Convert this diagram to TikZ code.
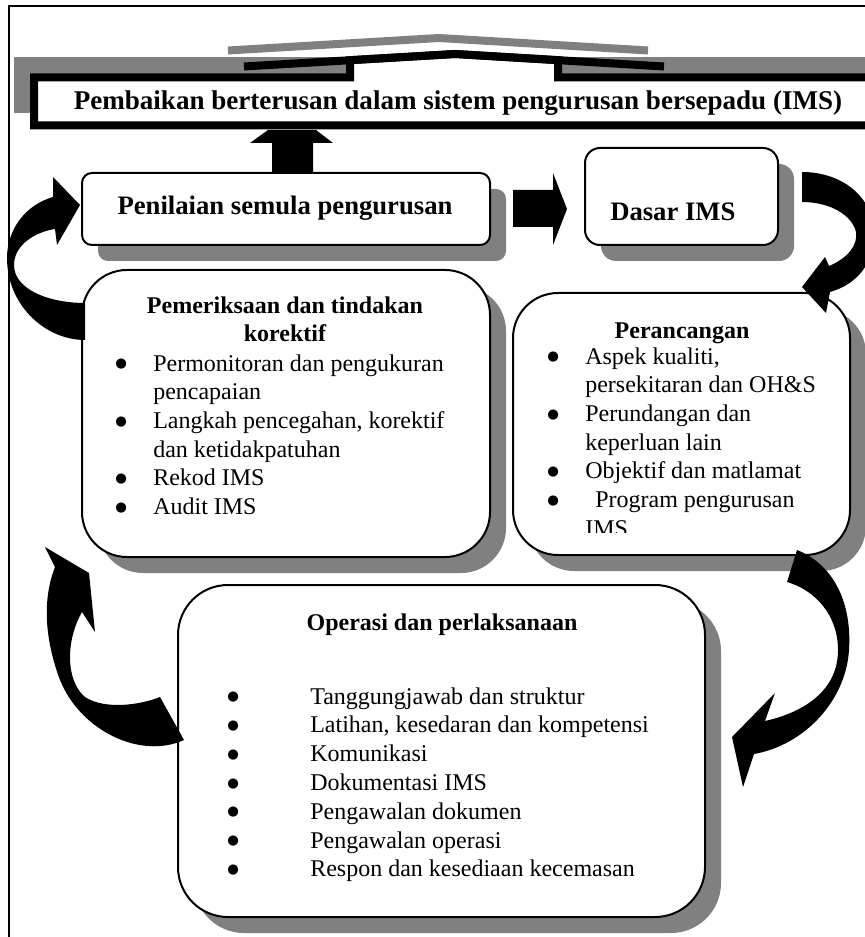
\documentclass[tikz,border=0pt]{standalone}
\usepackage{fontspec}
\setmainfont{Liberation Serif}
\newfontfamily\bulletfont{DejaVu Sans}
\usetikzlibrary{shadows}
\newcommand\itembullet{\raisebox{2.5pt}{\bulletfont\fontsize{10}{12}\selectfont ●}}

\begin{document}
\begin{tikzpicture}[x=0.75pt,y=0.75pt,yscale=-1,xscale=1,
    box/.style={draw, line width=1.5pt, fill=white, inner sep=0pt, outer sep=0pt,
      drop shadow={shadow xshift=12pt, shadow yshift=-12pt, fill=gray, opacity=1}},
    headtext/.style={inner sep=0pt, anchor=base, font=\fontsize{20}{24}\selectfont\bfseries},
    subhead/.style={inner sep=0pt, anchor=base, font=\fontsize{18}{21}\selectfont\bfseries},
    listtext/.style={inner sep=0pt, anchor=base west, font=\fontsize{18}{21.5}\selectfont},
    bannerline/.style={line width=6pt, line join=miter},
    bendarrow/.style={fill=black},
    blockarrow/.style={fill=black}]
      \useasboundingbox (0,0) rectangle (864,937);

      %Frame
      \draw [line width=1.5pt]   (9,937) -- (9,6) -- (870,6) ;

      %Shape: Banner shadow
      \fill [gray]  (14,57.5) rectangle (884,113.5) ;
      \draw [gray, bannerline]  (228,50.5) -- (439,38) -- (648,50.5) ;
      %Shape: Banner
      \draw [bannerline, fill=white]  (34,77.5) -- (350,77.5) -- (350,60.2) -- (455,54) -- (558,60.2) -- (558,77.5) -- (880,77.5) -- (880,125.5) -- (34,125.5) -- cycle ;
      \draw [bannerline]  (244,66.5) -- (455,54) -- (664,66.5) ;

      % Text Node
      \node [headtext, font=\fontsize{20.3}{24}\selectfont\bfseries] (titleText) at (458,110) {Pembaikan berterusan dalam sistem pengurusan bersepadu (IMS)};

      %Shape: Up Arrow
      \fill [blockarrow]  (272,173) -- (272,143) -- (250,143) -- (268,130) -- (316,130) -- (333,143) -- (313,143) -- (313,173) -- cycle ;

      %Shape: Rounded Rect
      \node [box, rounded corners=7.5pt, minimum width=306pt, minimum height=54pt] (penilaianBox) at (286,209) {};
      %Shape: Rounded Rect
      \node [box, rounded corners=11.25pt, minimum width=144.75pt, minimum height=72.75pt] (dasarBox) at (681.5,196.5) {};
      %Shape: Rounded Rect
      \node [box, rounded corners=33.75pt, minimum width=306pt, minimum height=215.25pt] (pemeriksaanBox) at (286,413.5) {};
      %Shape: Rounded Rect
      \node [box, rounded corners=33.75pt, minimum width=252.75pt, minimum height=196.5pt] (perancanganBox) at (681.5,424) {};
      %Shape: Rounded Rect
      \node [box, rounded corners=37.5pt, minimum width=395.25pt, minimum height=249pt] (operasiBox) at (441.5,751) {};

      %Shape: Right Arrow
      \fill [blockarrow]  (513,190) -- (553,190) -- (553,173) -- (567,209) -- (553,245) -- (553,227) -- (513,227) -- cycle ;

      % Text Node
      \node [headtext] (penilaianText) at (285,215) {Penilaian semula pengurusan};
      % Text Node
      \node [headtext, anchor=base west] (dasarText) at (610,221) {Dasar IMS};

      % Text Node
      \node [subhead] (pemeriksaanHead) at (285,314) {\begin{tabular}[t]{@{}c@{}}Pemeriksaan dan tindakan\\korektif\end{tabular}};
      % Text Node
      \node [listtext] (pemeriksaanList) at (115,371) {\begin{tabular}[t]{@{}p{28.5pt}@{}l@{}}
        \itembullet & Permonitoran dan pengukuran\\
         & pencapaian\\
        \itembullet & Langkah pencegahan, korektif\\
         & dan ketidakpatuhan\\
        \itembullet & Rekod IMS\\
        \itembullet & Audit IMS
      \end{tabular}};

      % Text Node
      \node [subhead] (perancanganHead) at (682,339) {Perancangan};
      \begin{scope}
        \clip (513,293) rectangle (850,532);
        % Text Node
        \node [listtext] (perancanganList) at (547,364) {\begin{tabular}[t]{@{}p{28.5pt}@{}l@{}}
          \itembullet & Aspek kualiti,\\
           & persekitaran dan OH\&S\\
          \itembullet & Perundangan dan\\
           & keperluan lain\\
          \itembullet & Objektif dan matlamat\\
          \itembullet & \hspace{7.5pt}Program pengurusan\\
           & IMS
        \end{tabular}};
      \end{scope}

      % Text Node
      \node [subhead] (operasiHead) at (442,630) {Operasi dan perlaksanaan};
      % Text Node
      \node [listtext, font=\fontsize{18}{21.6}\selectfont] (operasiList) at (227,704) {\begin{tabular}[t]{@{}p{62.25pt}@{}l@{}}
        \itembullet & Tanggungjawab dan struktur\\
        \itembullet & Latihan, kesedaran dan kompetensi\\
        \itembullet & Komunikasi\\
        \itembullet & Dokumentasi IMS\\
        \itembullet & Pengawalan dokumen\\
        \itembullet & Pengawalan operasi\\
        \itembullet & Respon dan kesediaan kecemasan
      \end{tabular}};

      %Curve Lines: to Penilaian
      \fill [bendarrow]  (85,303) .. controls (50,303) and (14,290) .. (14,265) .. controls (14,245) and (35,232) .. (55,229) -- (57,245) -- (80,205) -- (53,177) -- (53,197) .. controls (25,205) and (7,230) .. (7,258) .. controls (7,305) and (45,340) .. (85,340) -- cycle ;
      %Curve Lines: to Pemeriksaan
      \fill [bendarrow]  (184,740) .. controls (140,760) and (80,730) .. (60,680) .. controls (45,640) and (42,600) .. (55,567) -- (45,547) -- (89,573) -- (95,632) -- (82,612) .. controls (66,640) and (65,680) .. (85,697) .. controls (105,710) and (140,705) .. (160,697) -- cycle ;
      %Curve Lines: to Perancangan
      \fill [bendarrow]  (802,172) .. controls (840,172) and (874,195) .. (874,235) .. controls (874,265) and (855,285) .. (830,292) -- (826,313) -- (802,287) -- (825,257) -- (829,266) .. controls (848,258) and (858,245) .. (856,232) .. controls (852,215) and (830,202) .. (802,202) -- cycle ;
      %Curve Lines: to Operasi
      \fill [bendarrow]  (797,550) .. controls (835,565) and (852,605) .. (849,650) .. controls (846,700) and (805,745) .. (754,754) -- (743,787) -- (732,737) -- (775,693) -- (765,721) .. controls (805,712) and (838,690) .. (838,650) .. controls (838,615) and (815,590) .. (787,582) -- cycle ;
    \end{tikzpicture}
\end{document}
